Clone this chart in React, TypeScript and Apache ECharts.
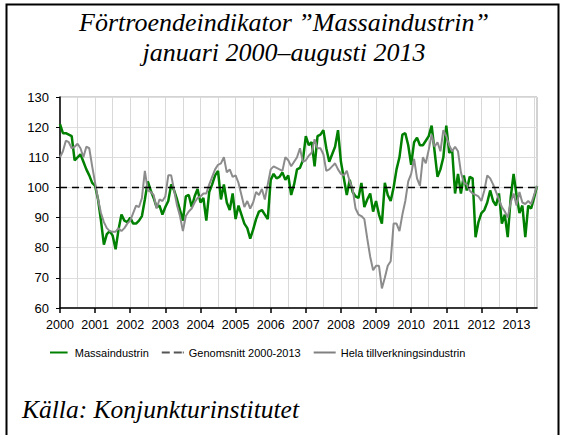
import React, { useEffect, useRef } from "react";
import * as echarts from "echarts";

const years = ["2000","2001","2002","2003","2004","2005","2006","2007","2008","2009","2010","2011","2012","2013"];

const massaindustrin = [
  121, 118, 118, 117.5, 117, 109, 110, 111, 108.5, 106, 104, 101.5,
  100.5, 96, 89, 81, 84.5, 85.5, 84, 79.5, 86, 91, 89, 88.5,
  90, 88, 88, 89, 90.5, 96, 102, 99, 96.5, 93.5, 94, 91,
  93.5, 95.5, 101, 99, 96, 92.5, 89, 97, 97.5, 93.5, 97, 99.5,
  95, 96.5, 89, 98.5, 101, 104, 105.5, 96, 101, 95, 92.5, 98,
  89.5, 94, 91, 88, 86.5, 83, 86, 89.5, 92, 92.5, 91, 89.5,
  102.5, 104.5, 103, 103.5, 105, 102.5, 104, 97.5, 101, 106, 106.5, 109,
  117, 114, 115, 107, 117, 117.5, 119, 113, 108.5, 111, 113.5, 119,
  108.5, 103, 97.5, 102.5, 98.5, 97, 96.5, 101.5, 93.5, 96, 98, 92,
  95.5, 91, 88, 101.5, 97.5, 95.5, 100, 106, 110, 117.5, 118, 114,
  107.5, 115, 116.5, 114, 114, 115.5, 117, 120.5, 112, 103.5, 106, 110,
  120.5, 111.5, 112.5, 98, 104.5, 98, 104, 99, 103.5, 103, 83.5, 88.5,
  91.5, 92.5, 95, 99, 95.5, 94, 98, 88, 91, 83.5, 96.5, 104.5,
  97.5, 91.5, 94, 83.5, 94, 93, 96.5, 100.5
];

const helaTillverkningsindustrin = [
  110, 112, 115.5, 115, 113, 113.5, 114.5, 113, 110, 113.5, 113, 107,
  101.5, 96, 91.5, 88.5, 86.5, 85.5, 85.3, 85.3, 86.5, 85.5, 86.5, 88,
  89, 91.5, 94, 93.5, 96.5, 105.5, 99, 98.5, 97.5, 93, 96, 95.5,
  97, 104, 104, 99, 94, 90.5, 85.5, 90.5, 92, 93, 95, 96.5,
  97, 98, 98, 101, 103.5, 106, 107.5, 108, 110, 105, 106, 103.5,
  104, 101.5, 97.5, 93.5, 95.5, 93, 95, 98.5, 97.5, 99.5, 96, 101,
  106, 107, 106.5, 106, 105.5, 110, 109, 107, 108.5, 110, 113, 108.5,
  109, 110.5, 111.5, 116, 113, 113, 111, 105.5, 106, 107, 108, 106,
  104.5, 104, 105.5, 102, 99.5, 93, 91, 90.5, 89.5, 83, 77, 72.5,
  74, 74, 66.5, 70, 74, 75.5, 88, 88, 85.5, 91, 95.5, 102,
  104.5, 109.5, 103, 100.5, 110, 108, 112.5, 117.5, 113.5, 115, 112, 119,
  117, 114, 112, 113.5, 112, 105, 101.5, 101, 99, 98, 97.5, 97,
  95.5, 99, 104, 103, 101, 98.5, 96, 93.5, 92, 90, 95, 98,
  94, 98.5, 95, 94.5, 95.5, 94.5, 97.5, 100.5
];

const genomsnitt = 100;
const monthCodes = ["01","02","03","04","05","06","07","08","09","10","11","12"];
const months = years
  .flatMap((y) => monthCodes.map((m) => `${y}-${m}`))
  .slice(0, massaindustrin.length);

const serif = "'Liberation Serif', 'Times New Roman', serif";
const sans = "'Liberation Sans', Arial, sans-serif";

export default function App() {
  const ref = useRef<HTMLDivElement>(null);
  useEffect(() => {
    if (!ref.current) return;
    const chart = echarts.init(ref.current, undefined, { renderer: "svg" });
    chart.setOption({
      animation: false,
      backgroundColor: "#fff",
      title: {
        text: "Förtroendeindikator ”Massaindustrin”\njanuari 2000–augusti 2013",
        left: "center",
        top: 2,
        textStyle: {
          fontFamily: serif,
          fontStyle: "italic",
          fontWeight: "normal",
          fontSize: 26,
          lineHeight: 30,
          color: "#000",
        },
      },
      graphic: [
        {
          type: "rect",
          shape: { x: 6.5, y: 4.5, width: 552, height: 440 },
          style: { fill: "none", stroke: "#000", lineWidth: 2 },
          silent: true,
        },
        {
          type: "text",
          left: 22,
          top: 396,
          style: {
            text: "Källa: Konjunkturinstitutet",
            fontFamily: serif,
            fontStyle: "italic",
            fontSize: 25.5,
            fill: "#000",
          },
        },
      ],
      legend: {
        left: 45,
        top: 342,
        itemWidth: 22,
        itemHeight: 2,
        itemGap: 13,
        textStyle: { fontFamily: sans, fontSize: 11, color: "#000" },
        data: [
          { name: "Massaindustrin", icon: "path://M0,0H22V2.5H0Z", itemStyle: { color: "#008000" } },
          { name: "Genomsnitt 2000-2013", icon: "path://M0,0H8V2H0ZM12,0H20V2H12ZM21,0H22V2H21Z", itemStyle: { color: "#555" } },
          { name: "Hela tillverkningsindustrin", icon: "path://M0,0H22V2H0Z", itemStyle: { color: "#808080" } },
        ],
      },
      grid: {
        left: 60,
        right: 31,
        top: 97,
        bottom: 127,
        show: true,
        borderColor: "#a6a6a6",
        borderWidth: 1,
        containLabel: false,
      },
      xAxis: {
        type: "category",
        boundaryGap: false,
        data: months,
        axisLine: { lineStyle: { color: "#000", width: 1.5 } },
        axisTick: {
          interval: (i: number) => i % 12 === 0,
          length: 5,
          lineStyle: { color: "#000", width: 1.5 },
        },
        axisLabel: {
          interval: (i: number) => i % 12 === 0,
          formatter: (v: string) => v.slice(0, 4),
          fontFamily: sans,
          fontSize: 12.5,
          color: "#000",
          margin: 10,
        },
        splitLine: {
          show: true,
          interval: (i: number) => i % 6 === 0,
          lineStyle: { color: "#d9d9d9", width: 1 },
        },
      },
      yAxis: {
        type: "value",
        min: 60,
        max: 130,
        interval: 10,
        axisLine: { show: true, lineStyle: { color: "#000", width: 1.5 } },
        axisTick: { show: true, length: 4, lineStyle: { color: "#000" } },
        axisLabel: { fontFamily: sans, fontSize: 13, color: "#000", margin: 11 },
        splitLine: { show: true, lineStyle: { color: "#dedede", width: 1 } },
      },
      series: [
        {
          name: "Massaindustrin",
          type: "line",
          data: massaindustrin,
          symbol: "none",
          color: "#008000",
          lineStyle: { color: "#008000", width: 2.5 },
          z: 3,
        },
        {
          name: "Genomsnitt 2000-2013",
          type: "line",
          data: [],
          symbol: "none",
          color: "#555",
          lineStyle: { color: "#555", width: 1.5, type: [5, 4] },
          markLine: {
            silent: true,
            symbol: ["none", "none"],
            label: { show: false },
            lineStyle: { color: "#000", width: 1.3, type: [7, 5] },
            data: [{ yAxis: genomsnitt }],
          },
          z: 5,
        },
        {
          name: "Hela tillverkningsindustrin",
          type: "line",
          data: helaTillverkningsindustrin,
          symbol: "none",
          color: "#808080",
          lineStyle: { color: "#8c8c8c", width: 2 },
          z: 4,
        },
      ],
    });
    return () => chart.dispose();
  }, []);
  return (
    <div style={{ position: "fixed", left: 0, top: 0, width: 568, height: 435, background: "#fff" }}>
      <div ref={ref} style={{ width: 568, height: 435 }} />
    </div>
  );
}
